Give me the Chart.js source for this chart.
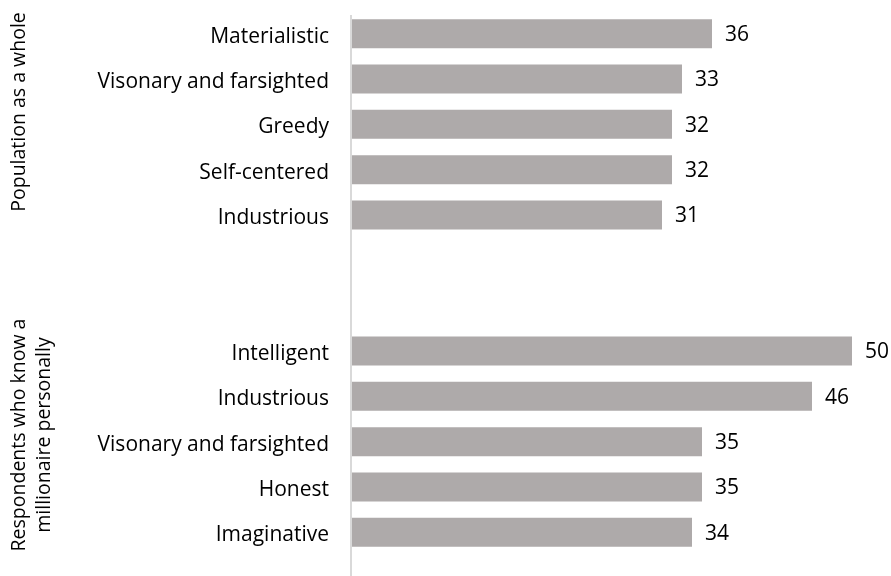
<!DOCTYPE html>
<html>
<head>
<meta charset="utf-8">
<script src="https://cdn.jsdelivr.net/npm/chart.js@4/dist/chart.umd.min.js"></script>
<style>
  html, body { margin: 0; padding: 0; background: #fff; }
  #wrap { width: 891px; height: 576px; position: relative; }
</style>
</head>
<body>
<div id="wrap"><canvas id="c"></canvas></div>
<script>
// Attributes ascribed to millionaires, two respondent groups separated by blank rows
const categories = [
  'Materialistic', 'Visonary and farsighted', 'Greedy', 'Self-centered', 'Industrious',
  '', '',
  'Intelligent', 'Industrious', 'Visonary and farsighted', 'Honest', 'Imaginative'
];
const values = [36, 33, 32, 32, 31, null, null, 50, 46, 35, 35, 34];
const groupTitles = [
  ['Population as a whole'],
  ['Respondents who know a', 'millionaire personally']
];

const FONT = '"Open Sans", Lato, sans-serif';
const FONT_SIZE = 21;
const TITLE_SIZE = 19.5;

// Value labels at the end of each bar, plus the vertical axis line and group titles
const decorations = {
  id: 'decorations',
  afterDatasetsDraw(chart) {
    const ctx = chart.ctx;
    const meta = chart.getDatasetMeta(0);
    ctx.save();
    ctx.font = `${FONT_SIZE}px ${FONT}`;
    ctx.fillStyle = '#000';
    ctx.textAlign = 'left';
    ctx.textBaseline = 'middle';
    meta.data.forEach((bar, i) => {
      const v = values[i];
      if (v == null) return;
      ctx.fillText(String(v), bar.x + 13, bar.y + 1.5);
    });
    ctx.restore();
  },
  afterDraw(chart) {
    const ctx = chart.ctx;
    const area = chart.chartArea;
    ctx.save();
    // axis line
    ctx.strokeStyle = '#D9D9D9';
    ctx.lineWidth = 2;
    ctx.beginPath();
    ctx.moveTo(area.left - 1, 15);
    ctx.lineTo(area.left - 1, chart.height);
    ctx.stroke();

    // rotated group titles
    ctx.font = `${TITLE_SIZE}px ${FONT}`;
    ctx.fillStyle = '#000';
    ctx.textAlign = 'center';
    ctx.textBaseline = 'middle';
    const centers = [112, 435];
    groupTitles.forEach((lines, g) => {
      lines.forEach((line, k) => {
        ctx.save();
        ctx.translate(19 + k * 25, centers[g]);
        ctx.rotate(-Math.PI / 2);
        ctx.fillText(line, 0, 0);
        ctx.restore();
      });
    });
    ctx.restore();
  }
};

new Chart(document.getElementById('c'), {
  type: 'bar',
  data: {
    labels: categories,
    datasets: [{
      data: values,
      backgroundColor: '#AEAAAA',
      borderWidth: 0,
      categoryPercentage: 1,
      barPercentage: 0.64
    }]
  },
  options: {
    indexAxis: 'y',
    responsive: true,
    maintainAspectRatio: false,
    animation: false,
    layout: { padding: { left: 0, right: 39, top: 11, bottom: 21 } },
    plugins: {
      legend: { display: false },
      tooltip: { enabled: false }
    },
    scales: {
      x: {
        display: false,
        min: 0,
        max: 50
      },
      y: {
        grid: { display: false, drawTicks: false },
        border: { display: false },
        ticks: {
          padding: 23,
          labelOffset: 3,
          color: '#000',
          font: { family: FONT, size: FONT_SIZE }
        },
        afterFit(scale) {
          scale.width = 352;
          scale.paddingTop = 0;
          scale.paddingBottom = 0;
        }
      }
    }
  },
  plugins: [decorations]
});
</script>
</body>
</html>
